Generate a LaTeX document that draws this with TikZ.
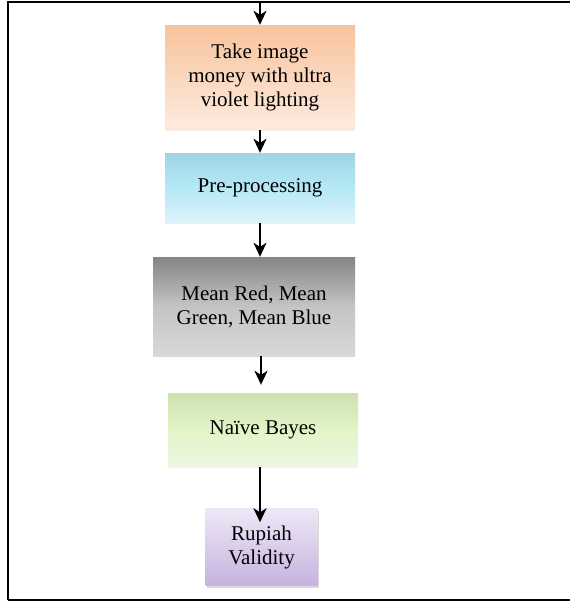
\documentclass[tikz,border=0pt]{standalone}
\usepackage{fontspec}
\setmainfont{Liberation Serif}
\usetikzlibrary{arrows.meta,shadows}
\definecolor{orTop}{HTML}{F8C39C}
\definecolor{orBot}{HTML}{FDEBE0}
\definecolor{blTop}{HTML}{9ED5E3}
\definecolor{blMid}{HTML}{B6E8F6}
\definecolor{blBot}{HTML}{DDF3FA}
\definecolor{grTop}{HTML}{858585}
\definecolor{grMid}{HTML}{C4C4C4}
\definecolor{grBot}{HTML}{D8D8D8}
\definecolor{gnTop}{HTML}{CCE0B0}
\definecolor{gnMid}{HTML}{E2F5C8}
\definecolor{gnBot}{HTML}{EEF5E2}
\definecolor{puTop}{HTML}{EEE8F6}
\definecolor{puBot}{HTML}{C6B2DF}
\tikzset{
  stepbox/.style={inner sep=0pt, align=center, font=\fontsize{21}{24}\selectfont},
  flow/.style={line width=2.2pt, -{Stealth[length=14pt,width=13pt,inset=4pt]}},
  frameline/.style={line width=1.8pt}
}
\begin{document}
\begin{tikzpicture}[x=1pt,y=-1pt]
\useasboundingbox (0,0) rectangle (570,603);
\draw[frameline] (8,600) -- (8,2) -- (570,2);
\draw[frameline] (8,600) -- (570,600);
\coordinate (top) at (260,2);
\node[stepbox, minimum width=190pt, minimum height=105pt, top color=orTop, bottom color=orBot] (b1) at (260,77.5) {Take image\\money with ultra\\violet lighting};
\node[stepbox, minimum width=190pt, minimum height=70pt, top color=blTop, bottom color=blBot, middle color=blMid] (b2) at (260,188) {Pre-processing};
\node[stepbox, minimum width=202pt, minimum height=99pt, top color=grTop, bottom color=grBot, middle color=grMid] (b3) at (254,306.5) {Mean Red, Mean\\Green, Mean Blue};
\node[stepbox, minimum width=190pt, minimum height=74pt, top color=gnTop, bottom color=gnBot, middle color=gnMid] (b4) at (263,430) {Na\"ive Bayes};
\node[stepbox, minimum width=112pt, minimum height=77pt, top color=puTop, bottom color=puBot, drop shadow={opacity=0.3, shadow xshift=1.5pt, shadow yshift=-2.5pt}] (b5) at (261.5,547) {Rupiah\\Validity};
\draw[flow] (top) -- (top |- b1.north);
\draw[flow] (top |- b1.south) -- (top |- b2.north);
\draw[flow] (top |- b2.south) -- (top |- b3.north);
\draw[flow] ([xshift=1pt]top |- b3.south) -- ([xshift=1pt,yshift=8pt]top |- b4.north);
\draw[flow] (top |- b4.south) -- ([yshift=-14pt]top |- b5.north);
\end{tikzpicture}
\end{document}
